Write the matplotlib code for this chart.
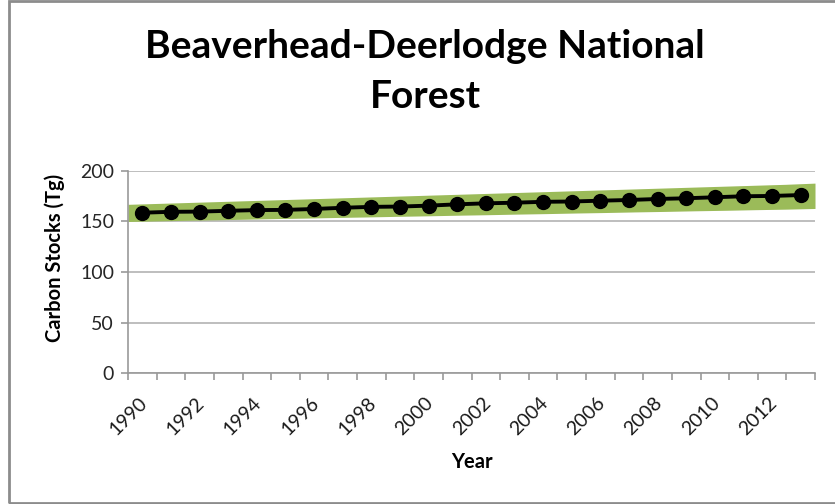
import numpy as np
import matplotlib
matplotlib.use('Agg')
import matplotlib.pyplot as plt
import matplotlib.transforms as mtransforms
from matplotlib.patches import Rectangle

# Carbon stocks, Beaverhead-Deerlodge NF
years = list(range(1990, 2014))
stocks = [158.7, 159.6, 159.8, 160.6, 161.3, 161.5, 162.4, 163.6, 164.5, 164.8, 165.7, 167.0,
          168.0, 168.6, 169.5, 169.8, 170.6, 171.3, 172.3, 173.0, 174.0, 175.0, 175.3, 176.2]
lower = [150.0, 150.6, 151.2, 151.7, 152.3, 152.9, 153.4, 154.0, 154.5, 155.1, 155.6, 156.2,
         156.7, 157.3, 157.8, 158.4, 158.9, 159.5, 160.0, 160.6, 161.1, 161.7, 162.2, 162.9]
upper = [167.0, 167.9, 168.8, 169.7, 170.6, 171.5, 172.4, 173.3, 174.2, 175.1, 176.0, 176.9,
         177.8, 178.7, 179.6, 180.5, 181.4, 182.3, 183.2, 184.1, 185.0, 185.9, 186.8, 188.0]
tick_years = years[::2]
title_lines = ['Beaverhead-Deerlodge National', 'Forest']

plt.rcParams['font.family'] = ['Lato', 'DejaVu Sans']

W, H = 835, 504
fig = plt.figure(figsize=(W / 100, H / 100), dpi=100)
ax = fig.add_axes([128 / W, 1 - 373 / H, (815 - 128) / W, (373 - 171) / H])

n = len(years)
xpos = np.arange(n)
# band spans the full axis width (area series on tick marks)
xband = np.linspace(-0.5, n - 0.5, n)
ax.fill_between(xband, lower, upper, color='#9bbb59', linewidth=0, zorder=2)
ax.plot(xpos, stocks, color='black', linewidth=2.8, marker='o', markersize=10, zorder=3)

ax.set_xlim(-0.5, n - 0.5)
ax.set_ylim(0, 200)
ax.set_yticks([0, 50, 100, 150, 200])
ax.yaxis.grid(True, color='#b3b3b3', linewidth=1.2, zorder=0)
ax.set_axisbelow(True)

ax.set_xticks(np.arange(-0.5, n, 1.0))
ax.set_xticklabels([])
ax.set_xticks([years.index(y) for y in tick_years], minor=True)
ax.set_xticklabels([str(y) for y in tick_years], minor=True, rotation=45, ha='right',
                   fontsize=14, color='#1a1a1a')
ax.tick_params(axis='x', which='major', length=5, color='#999999', width=1.2)
ax.tick_params(axis='x', which='minor', length=0, pad=15)
offset = mtransforms.ScaledTranslation(8 / 100, 0, fig.dpi_scale_trans)
for lab in ax.xaxis.get_minorticklabels():
    lab.set_transform(lab.get_transform() + offset)

ax.tick_params(axis='y', length=5, color='#999999', width=1.2, labelsize=14,
               labelcolor='#262626', pad=5)
for s in ['top', 'right']:
    ax.spines[s].set_visible(False)
for s in ['left', 'bottom']:
    ax.spines[s].set_color('#999999')
    ax.spines[s].set_linewidth(1.2)

fig.text(55 / W, 1 - 258 / H, 'Carbon Stocks (Tg)', rotation=90, ha='center', va='center',
         fontsize=14.5, fontweight='bold')
fig.text(472 / W, 1 - 462 / H, 'Year', ha='center', va='center', fontsize=14.5, fontweight='bold')
fig.text(425 / W, 1 - 58 / H, title_lines[0], ha='center', va='baseline',
         fontsize=28, fontweight='bold')
fig.text(425 / W, 1 - 108 / H, title_lines[1], ha='center', va='baseline',
         fontsize=28, fontweight='bold')

fig.patches.append(Rectangle((9 / W, 1 / H), 1.0, 1 - 2 / H, transform=fig.transFigure,
                             fill=False, edgecolor='#8c8c8c', linewidth=2))

fig.savefig('out.png', dpi=100)
